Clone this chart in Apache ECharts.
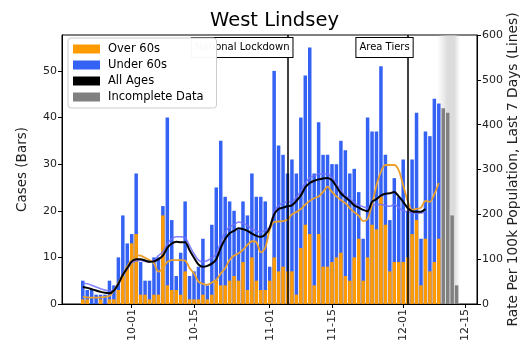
<!DOCTYPE html>
<html><head><meta charset="utf-8">
<script src="https://cdn.jsdelivr.net/npm/echarts@6/dist/echarts.min.js"></script>
<style>html,body{margin:0;padding:0;background:#fff}#c{width:521px;height:349px}</style>
</head><body><div id="c"></div>
<script>
// ---- data ----
const dates = [
 '2020-09-20','2020-09-21','2020-09-22','2020-09-23','2020-09-24','2020-09-25','2020-09-26','2020-09-27','2020-09-28','2020-09-29','2020-09-30',
 '2020-10-01','2020-10-02','2020-10-03','2020-10-04','2020-10-05','2020-10-06','2020-10-07','2020-10-08','2020-10-09','2020-10-10',
 '2020-10-11','2020-10-12','2020-10-13','2020-10-14','2020-10-15','2020-10-16','2020-10-17','2020-10-18','2020-10-19','2020-10-20',
 '2020-10-21','2020-10-22','2020-10-23','2020-10-24','2020-10-25','2020-10-26','2020-10-27','2020-10-28','2020-10-29','2020-10-30','2020-10-31',
 '2020-11-01','2020-11-02','2020-11-03','2020-11-04','2020-11-05','2020-11-06','2020-11-07','2020-11-08','2020-11-09','2020-11-10',
 '2020-11-11','2020-11-12','2020-11-13','2020-11-14','2020-11-15','2020-11-16','2020-11-17','2020-11-18','2020-11-19','2020-11-20',
 '2020-11-21','2020-11-22','2020-11-23','2020-11-24','2020-11-25','2020-11-26','2020-11-27','2020-11-28','2020-11-29','2020-11-30',
 '2020-12-01','2020-12-02','2020-12-03','2020-12-04','2020-12-05','2020-12-06','2020-12-07','2020-12-08','2020-12-09'
];
const over60 = [
 1,1,0,0,1,0,1,1,3,6,8,
 13,15,2,2,1,2,2,19,4,3, 3,2,7,1,1,1,2,1,2,5, 4,4,5,6,5,9,3,10,5,3,3,
 5,10,7,8,7,7,2,12,17,15, 4,15,8,8,9,10,11,6,5,10, 14,5,10,17,16,23,17,7,9,9,
 9,10,15,18,4,14,7,9,14
];
const under60 = [
 4,2,3,2,1,2,4,3,7,13,5,
 2,13,7,3,4,8,8,2,36,15, 3,9,15,5,6,7,12,3,15,20, 31,19,17,14,11,13,16,18,18,20,19,
 3,40,27,24,21,24,26,28,32,40, 24,24,24,24,21,20,24,27,23,19, 10,9,30,20,21,28,15,11,18,14,
 22,10,16,23,10,23,29,35,29
];
const incompleteDates = ['2020-12-10','2020-12-11','2020-12-12','2020-12-13'];
const incompleteCases = [42,41,19,4];
const allAgesRate = [
 38,36,33,30,27,25,24,30,45,65,80,
 95,100,100,97,94,95,100,108,125,135,139,138,138,120,103,88,83,85,90,100,125,145,158,163,169,167,163,157,152,150,155,
 170,200,212,215,218,220,230,242,260,270,275,278,280,281,276,262,247,238,230,220,215,210,207,228,234,242,246,247,250,240,
 228,214,207,206,206,212
];
const over60Rate = [
 16,15,14,14,15,16,18,30,47,65,83,
 100,109,108,103,98,91,72,80,94,98,98,98,97,80,68,50,45,43,48,54,68,80,98,108,113,121,132,140,138,115,125,
 165,183,184,185,188,200,205,212,222,230,236,240,250,262,250,240,232,225,214,205,197,185,190,222,265,295,310,310,310,298,
 265,230,210,212,215,230,228,245,270
];
const under60Rate = [
 47,45,42,38,34,31,29,31,44,66,78,
 92,96,97,95,94,97,108,116,134,145,150,150,148,130,112,98,94,97,103,112,138,160,172,177,183,180,175,167,163,160,165,
 172,205,220,225,228,228,238,252,270,282,286,290,290,290,282,268,252,242,235,226,220,217,214,220,222,222,220,218,222,215,
 208,205,203,202,203,206
];
const xTickDates = ['2020-10-01','2020-10-15','2020-11-01','2020-11-15','2020-12-01','2020-12-15'];
const caseTicks = [0,10,20,30,40,50];
const rateTicks = [0,100,200,300,400,500,600];
const eventDates = ['2020-11-05','2020-12-02'];
const eventLabels = ['National Lockdown','Area Tiers'];
const xRange = ['2020-09-15T08:00:00','2020-12-17T14:00:00'];
const caseMax = 57.7, rateMax = 600;

// ---- build ----
const ts = s => new Date(s.length === 10 ? s + 'T00:00:00' : s).getTime();
const pairs = (vals) => vals.map((v, i) => [ts(dates[i]), v]);
// stacked top of the bar = over 60s + under 60s (blue drawn behind, orange in front)
const stackTop = under60.map((v, i) => v + over60[i]);
const FONT = 'DejaVu Sans';
const C_OR = '#ff9a00', C_BL = '#3462f4';

const chart = echarts.init(document.getElementById('c'), null, {renderer: 'canvas'});
chart.setOption({
  animation: false,
  backgroundColor: '#fff',
  textStyle: {fontFamily: FONT},
  title: {text: 'West Lindsey', left: 269.5, top: 6, textAlign: 'center',
    textStyle: {fontFamily: FONT, fontSize: 19.5, fontWeight: 'normal', color: '#000'}},
  grid: {left: 62, right: 44, top: 35, bottom: 45, outerBoundsMode: 'none', containLabel: false,
    show: true, borderColor: '#000', borderWidth: 1, backgroundColor: 'transparent'},
  legend: {
    orient: 'vertical', left: 68, top: 38, z: 20, zlevel: 1,
    backgroundColor: 'rgba(255,255,255,0.97)', borderColor: '#ccc', borderWidth: 1, borderRadius: 3,
    padding: [5, 13, 5, 5], itemGap: 4, itemWidth: 27, itemHeight: 9,
    textStyle: {fontFamily: FONT, fontSize: 11.5, color: '#000', padding: [0, 0, 0, 3]},
    data: [
      {name: 'Over 60s', icon: 'rect', itemStyle: {color: C_OR}},
      {name: 'Under 60s', icon: 'rect', itemStyle: {color: C_BL}},
      {name: 'All Ages', icon: 'rect', itemStyle: {color: '#000'}},
      {name: 'Incomplete Data', icon: 'rect', itemStyle: {color: '#808080'}}
    ]
  },
  xAxis: {
    type: 'value', min: ts(xRange[0]), max: ts(xRange[1]), scale: true,
    axisLine: {lineStyle: {color: '#000'}},
    splitLine: {show: false},
    axisTick: {show: true, length: 4, lineStyle: {color: '#000'}, customValues: xTickDates.map(ts)},
    axisLabel: {rotate: 90, fontSize: 11, color: '#222', margin: 5, fontFamily: FONT,
      customValues: xTickDates.map(ts),
      formatter: v => { const d = new Date(v); return String(d.getMonth()+1).padStart(2,'0') + '-' + String(d.getDate()).padStart(2,'0'); }}
  },
  yAxis: [
    {type: 'value', min: 0, max: caseMax, name: 'Cases (Bars)', nameLocation: 'middle', nameGap: 33, nameRotate: 90,
     nameMoveOverlap: false,
     nameTextStyle: {fontSize: 13.5, color: '#222', fontFamily: FONT},
     axisLine: {show: true, lineStyle: {color: '#000'}}, splitLine: {show: false},
     axisTick: {show: true, length: 4, lineStyle: {color: '#000'}, customValues: caseTicks},
     axisLabel: {fontSize: 11, color: '#222', margin: 5, customValues: caseTicks}},
    {type: 'value', min: 0, max: rateMax, position: 'right',
     name: 'Rate Per 100k Population, Last 7 Days (Lines)', nameLocation: 'middle', nameGap: 29, nameRotate: 90,
     nameMoveOverlap: false,
     nameTextStyle: {fontSize: 13.8, color: '#222', fontFamily: FONT},
     axisLine: {show: true, lineStyle: {color: '#000'}}, splitLine: {show: false},
     axisTick: {show: true, length: 4, lineStyle: {color: '#000'}, customValues: rateTicks},
     axisLabel: {fontSize: 11, color: '#222', margin: 5, customValues: rateTicks}}
  ],
  series: [
    {name: 'Under 60s', type: 'bar', yAxisIndex: 0, barWidth: 3.5, barGap: '-100%', data: pairs(stackTop),
     itemStyle: {color: C_BL}, z: 2},
    {name: 'Over 60s', type: 'bar', yAxisIndex: 0, barWidth: 3.5, barGap: '-100%', data: pairs(over60),
     itemStyle: {color: C_OR}, z: 3,
     markLine: {silent: true, symbol: 'none', z: 6, label: {show: false},
       lineStyle: {color: '#000', width: 1.5, type: 'solid'},
       data: eventDates.map(d => ({xAxis: ts(d)}))},
     markPoint: {silent: true, z: 7, symbol: 'rect', symbolSize: 0,
       label: {show: true, position: 'inside', align: 'right', offset: [5, 0], fontFamily: FONT, fontSize: 10, color: '#000',
         backgroundColor: '#fff', borderColor: '#000', borderWidth: 1, padding: [5, 3, 4, 3],
         formatter: p => p.name},
       data: eventDates.map((d, i) => ({name: eventLabels[i], coord: [ts(d), 55]}))}},
    {name: 'Incomplete Data', type: 'bar', yAxisIndex: 0, barWidth: 3.5, barGap: '-100%',
     data: incompleteCases.map((v, i) => [ts(incompleteDates[i]), v]),
     itemStyle: {color: '#808080'}, z: 2,
     markArea: {silent: true, z: 1,
       itemStyle: {color: new echarts.graphic.LinearGradient(0, 0, 1, 0, [
         {offset: 0, color: 'rgba(215,215,215,0)'}, {offset: 0.45, color: 'rgba(205,205,205,0.7)'},
         {offset: 0.75, color: 'rgba(205,205,205,0.7)'}, {offset: 1, color: 'rgba(215,215,215,0)'}])},
       data: [[{xAxis: ts('2020-12-08T14:00:00')}, {xAxis: ts('2020-12-13T20:00:00')}]]}},
    {name: 'Under 60s rate', type: 'line', yAxisIndex: 1, data: pairs(under60Rate), symbol: 'none', smooth: 0.3,
     lineStyle: {color: 'rgba(110,110,255,0.85)', width: 1.6}, z: 4},
    {name: 'Over 60s rate', type: 'line', yAxisIndex: 1, data: pairs(over60Rate), symbol: 'none', smooth: 0.3,
     lineStyle: {color: '#eba02c', width: 1.8}, z: 4},
    {name: 'All Ages', type: 'line', yAxisIndex: 1, data: pairs(allAgesRate), symbol: 'none', smooth: 0.3,
     lineStyle: {color: '#000', width: 2}, itemStyle: {color: '#000'}, z: 5}
  ]
});
</script></body></html>
